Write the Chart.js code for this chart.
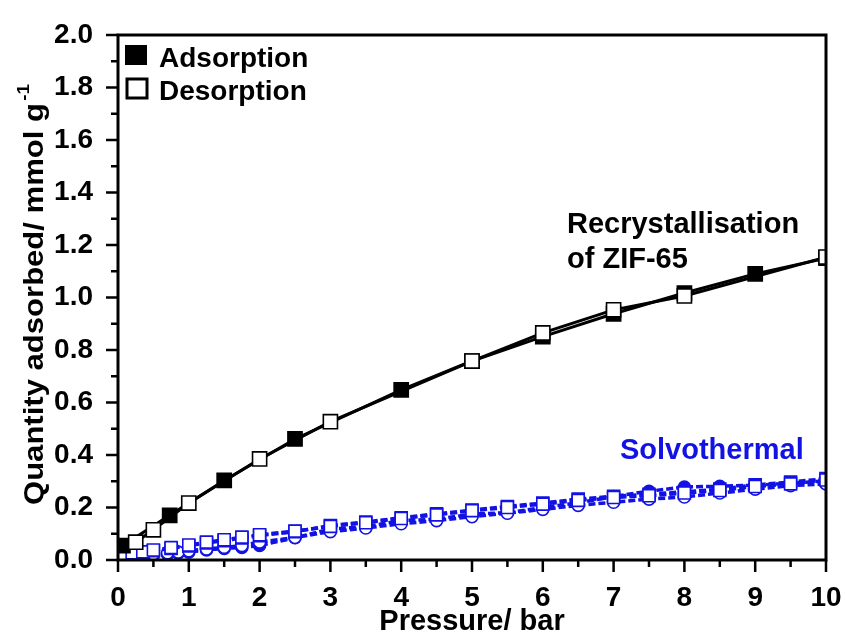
<!DOCTYPE html>
<html>
<head>
<meta charset="utf-8">
<script src="https://cdn.jsdelivr.net/npm/chart.js@4/dist/chart.umd.min.js"></script>
<style>
  html, body { margin: 0; padding: 0; background: #ffffff; }
  #wrap { width: 845px; height: 632px; }
</style>
</head>
<body>
<div id="wrap"><canvas id="c" width="845" height="632"></canvas></div>
<script>
// Recrystallised ZIF-65 isotherm (black)
const recAdsX = [0.07, 0.73, 1.5, 2.5, 4, 5, 6, 7, 8, 9, 10];
const recAdsY = [0.055, 0.17, 0.303, 0.461, 0.648, 0.758, 0.851, 0.938, 1.017, 1.09, 1.15];
const recDesX = [10, 8, 7, 6, 5, 3, 2, 1, 0.5, 0.25];
const recDesY = [1.154, 1.006, 0.953, 0.865, 0.758, 0.527, 0.385, 0.217, 0.115, 0.068];

// Solvothermal samples (blue)
const solSqX = [0.07, 0.2, 0.35, 0.5, 0.75, 1, 1.25, 1.5, 1.75, 2, 2.5, 3, 3.5, 4, 4.5, 5, 5.5, 6, 6.5, 7, 7.5, 8, 8.5, 9, 9.5, 10];
const solSqAdsY = [0.018, 0.024, 0.029, 0.035, 0.044, 0.054, 0.065, 0.074, 0.084, 0.093, 0.108, 0.131, 0.145, 0.161, 0.176, 0.19, 0.204, 0.217, 0.232, 0.243, 0.25, 0.26, 0.27, 0.286, 0.297, 0.31];
const solSqDesY = [0.02, 0.027, 0.031, 0.038, 0.047, 0.057, 0.068, 0.077, 0.087, 0.096, 0.11, 0.128, 0.142, 0.158, 0.172, 0.188, 0.2, 0.213, 0.227, 0.238, 0.245, 0.255, 0.265, 0.28, 0.29, 0.305];
const solCiX = [0.05, 0.2, 0.35, 0.5, 0.7, 0.85, 1, 1.25, 1.5, 1.75, 2, 2.5, 3, 3.5, 4, 4.5, 5, 5.5, 6, 6.5, 7, 7.5, 8, 8.5, 9, 9.5, 10];
const solCiAdsY = [0.005, 0.01, 0.014, 0.018, 0.022, 0.026, 0.03, 0.038, 0.044, 0.048, 0.055, 0.085, 0.118, 0.127, 0.15, 0.155, 0.175, 0.18, 0.2, 0.218, 0.242, 0.262, 0.278, 0.281, 0.285, 0.292, 0.302];
const solCiDesY = [0.012, 0.016, 0.02, 0.023, 0.027, 0.03, 0.035, 0.042, 0.048, 0.055, 0.068, 0.086, 0.108, 0.122, 0.138, 0.15, 0.165, 0.178, 0.193, 0.208, 0.22, 0.232, 0.24, 0.255, 0.27, 0.283, 0.29];

// Axis ticks
const xTickValues = [0, 1, 2, 3, 4, 5, 6, 7, 8, 9, 10];
const yTickLabels = ['0.0', '0.2', '0.4', '0.6', '0.8', '1.0', '1.2', '1.4', '1.6', '1.8', '2.0'];

const FONT = '"Liberation Sans", Arial, sans-serif';
const BLACK = '#000000';
const BLUE = 'rgb(18,18,228)';

const pts = (xs, ys) => xs.map((x, i) => ({ x: x, y: ys[i] }));

function series(label, xs, ys, color, style, filled, radius, dashed) {
  return {
    label: label,
    data: pts(xs, ys),
    borderColor: color,
    borderWidth: dashed ? 3.5 : 3,
    borderDash: dashed ? [7, 3] : [],
    pointStyle: style,
    pointRadius: radius,
    pointHoverRadius: radius,
    pointBorderWidth: 1.6,
    pointBorderColor: color,
    pointBackgroundColor: filled ? color : '#ffffff',
    tension: 0,
    fill: false,
    clip: 0
  };
}

// Outer frame, tick marks, axis title, legend and annotations
const decor = {
  id: 'decor',
  afterDraw(chart) {
    const ctx = chart.ctx;
    const a = chart.chartArea;
    const xs = chart.scales.x, ys = chart.scales.y;
    ctx.save();
    ctx.strokeStyle = BLACK;
    ctx.fillStyle = BLACK;
    ctx.lineCap = 'butt';

    // major and minor tick marks, outward
    ctx.lineWidth = 2.5;
    ctx.beginPath();
    for (let i = 0; i <= 20; i++) {
      const px = xs.getPixelForValue(i * 0.5);
      const len = i % 2 === 0 ? 12 : 7;
      ctx.moveTo(px, a.bottom);
      ctx.lineTo(px, a.bottom + len);
    }
    for (let i = 0; i <= 20; i++) {
      const py = ys.getPixelForValue(i * 0.1);
      const len = i % 2 === 0 ? 12 : 7;
      ctx.moveTo(a.left, py);
      ctx.lineTo(a.left - len, py);
    }
    ctx.stroke();

    // frame
    ctx.lineWidth = 3;
    ctx.strokeRect(a.left, a.top, a.right - a.left, a.bottom - a.top);

    // x title
    ctx.font = 'bold 29px ' + FONT;
    ctx.textAlign = 'center';
    ctx.textBaseline = 'alphabetic';
    ctx.fillText('Pressure/ bar', 472, 630);

    // y title with superscript
    ctx.save();
    ctx.translate(43, 505);
    ctx.rotate(-Math.PI / 2);
    ctx.font = 'bold 28px ' + FONT;
    ctx.textAlign = 'left';
    const main = 'Quantity adsorbed/ mmol g';
    const w = ctx.measureText(main).width;
    ctx.scale(402 / w, 1);
    ctx.fillText(main, 0, 0);
    ctx.font = 'bold 17px ' + FONT;
    ctx.fillText('-1', w + 2, -14);
    ctx.restore();

    // legend
    ctx.fillRect(125, 45, 22, 20);
    ctx.lineWidth = 3;
    ctx.fillStyle = '#ffffff';
    ctx.fillRect(127, 79, 20, 19);
    ctx.strokeRect(127, 79, 20, 19);
    ctx.fillStyle = BLACK;
    ctx.font = 'bold 28px ' + FONT;
    ctx.textAlign = 'left';
    ctx.fillText('Adsorption', 159, 67);
    ctx.fillText('Desorption', 159, 100);

    // sample annotations
    ctx.font = 'bold 29px ' + FONT;
    ctx.fillText('Recrystallisation', 567, 233);
    ctx.fillText('of ZIF-65', 567, 268);
    ctx.fillStyle = BLUE;
    ctx.font = 'bold 29px ' + FONT;
    ctx.fillText('Solvothermal', 620, 459);
    ctx.restore();
  }
};

new Chart(document.getElementById('c'), {
  type: 'line',
  data: {
    datasets: [
      series('Recrystallisation desorption', recDesX, recDesY, BLACK, 'rect', false, 10, false),
      series('Recrystallisation adsorption', recAdsX, recAdsY, BLACK, 'rect', true, 10, false),
      series('Solvothermal desorption (squares)', solSqX, solSqDesY, BLUE, 'rect', false, 8.5, true),
      series('Solvothermal adsorption (squares)', solSqX, solSqAdsY, BLUE, 'rect', true, 8.5, true),
      series('Solvothermal desorption (circles)', solCiX, solCiDesY, BLUE, 'circle', false, 6, true),
      series('Solvothermal adsorption (circles)', solCiX, solCiAdsY, BLUE, 'circle', true, 6, true)
    ]
  },
  options: {
    responsive: false,
    animation: false,
    devicePixelRatio: 1,
    layout: { padding: { top: 35, right: 19, left: 0, bottom: 0 } },
    plugins: { legend: { display: false }, tooltip: { enabled: false } },
    scales: {
      x: {
        type: 'linear',
        min: 0,
        max: 10,
        afterFit(s) { s.height = 72; s.paddingLeft = 0; s.paddingRight = 0; },
        afterBuildTicks(s) { s.ticks = xTickValues.map(v => ({ value: v })); },
        grid: { display: false },
        border: { display: false },
        ticks: {
          autoSkip: false,
          maxRotation: 0,
          padding: 13,
          color: BLACK,
          font: { family: FONT, size: 28, weight: 'bold' },
          callback: (v) => String(v)
        }
      },
      y: {
        type: 'linear',
        min: 0,
        max: 2,
        afterFit(s) { s.width = 118; s.paddingTop = 0; s.paddingBottom = 0; },
        afterBuildTicks(s) { s.ticks = yTickLabels.map(t => ({ value: parseFloat(t) })); },
        grid: { display: false },
        border: { display: false },
        ticks: {
          autoSkip: false,
          padding: 17,
          color: BLACK,
          font: { family: FONT, size: 28, weight: 'bold' },
          callback: (v, i) => yTickLabels[i]
        }
      }
    }
  },
  plugins: [decor]
});
</script>
</body>
</html>
